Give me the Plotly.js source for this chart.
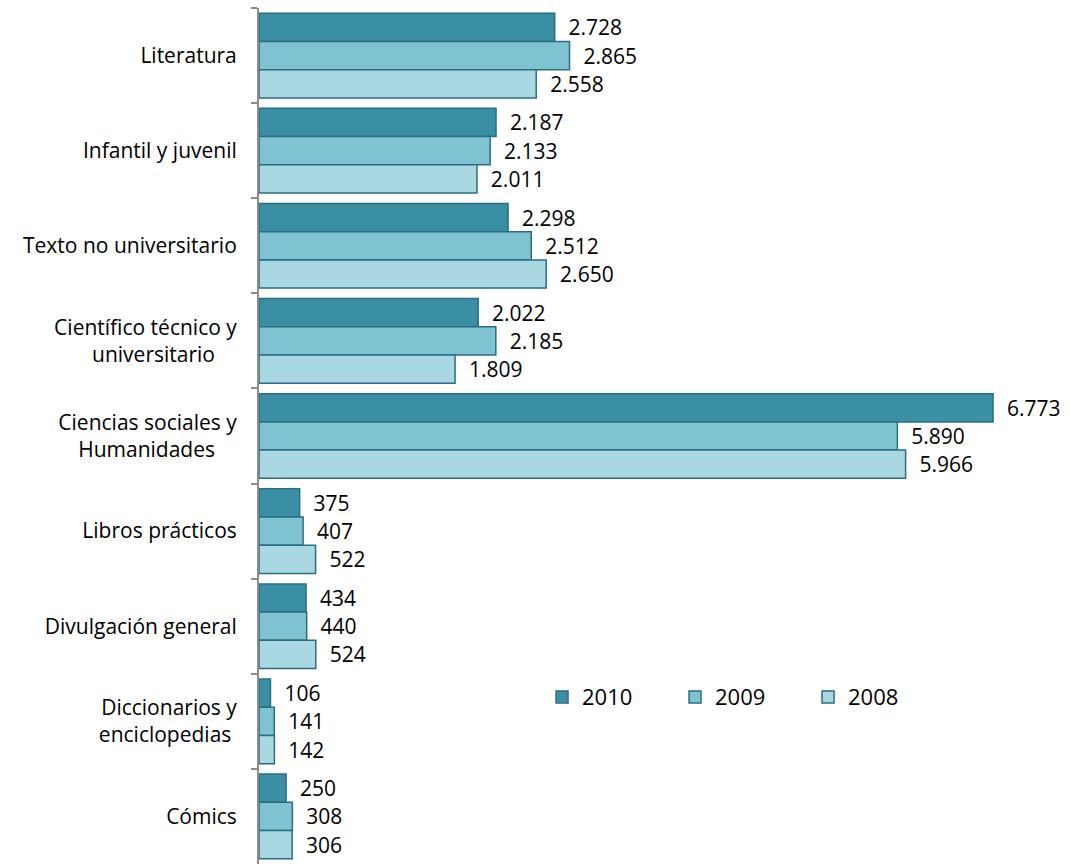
<!DOCTYPE html>
<html>
<head>
<meta charset="utf-8">
<script src="https://cdn.plot.ly/plotly-3.0.1.min.js"></script>
<style>html,body{margin:0;padding:0;background:#fff;}#chart{width:1070px;height:864px;}</style>
</head>
<body>
<div id="chart"></div>
<script>
var categories = [
  "Literatura",
  "Infantil y juvenil",
  "Texto no universitario",
  "Científico técnico y<br>universitario\u00a0\u00a0\u00a0\u00a0",
  "Ciencias sociales y<br>Humanidades\u00a0\u00a0\u00a0\u00a0",
  "Libros prácticos",
  "Divulgación general",
  "Diccionarios y<br>enciclopedias\u00a0",
  "Cómics"
];
var seriesNames = ["2010", "2009", "2008"];
var values2010 = [2728, 2187, 2298, 2022, 6773, 375, 434, 106, 250];
var values2009 = [2865, 2133, 2512, 2185, 5890, 407, 440, 141, 308];
var values2008 = [2558, 2011, 2650, 1809, 5966, 522, 524, 142, 306];

var colors = ["#3A8FA5", "#7FC3D3", "#A9D8E3"];
var lineColor = "#2A6E80";
var allValues = [values2010, values2009, values2008];
var FONT = "'Open Sans', sans-serif";

var traces = allValues.map(function (vals, i) {
  return {
    type: "bar",
    orientation: "h",
    name: seriesNames[i],
    x: vals,
    y: categories,
    marker: { color: colors[i], line: { color: lineColor, width: 1.5 } },
    texttemplate: "\u00a0\u00a0%{x:,}",
    textposition: "outside",
    constraintext: "none",
    cliponaxis: false,
    textfont: { family: FONT, size: 21, color: "#000" },
    hoverinfo: "skip"
  };
});

var layout = {
  width: 1070,
  height: 864,
  margin: { l: 259, r: 0, t: 8, b: 0 },
  paper_bgcolor: "#fff",
  plot_bgcolor: "#fff",
  separators: ",.",
  barmode: "group",
  bargap: 0.11,
  bargroupgap: 0,
  font: { family: FONT, size: 21, color: "#000" },
  showlegend: true,
  legend: {
    orientation: "h",
    x: 0.349,
    xanchor: "left",
    y: 0.195,
    yanchor: "middle",
    traceorder: "normal",
    entrywidth: 88,
    entrywidthmode: "pixels",
    itemwidth: 30,
    font: { family: FONT, size: 22, color: "#000" },
    bgcolor: "rgba(0,0,0,0)"
  },
  xaxis: {
    range: [0, 7483],
    showgrid: false,
    zeroline: false,
    showline: false,
    showticklabels: false,
    ticks: ""
  },
  yaxis: {
    type: "category",
    autorange: "reversed",
    showgrid: false,
    zeroline: false,
    showline: true,
    linecolor: "#8C8C8C",
    linewidth: 2,
    ticks: "outside",
    tickson: "boundaries",
    ticklen: 6,
    tickwidth: 2,
    tickcolor: "#8C8C8C",
    ticklabelstandoff: 16,
    tickfont: { family: FONT, size: 21, color: "#000" }
  }
};

Plotly.newPlot("chart", traces, layout, { displayModeBar: false, staticPlot: true });
</script>
</body>
</html>
